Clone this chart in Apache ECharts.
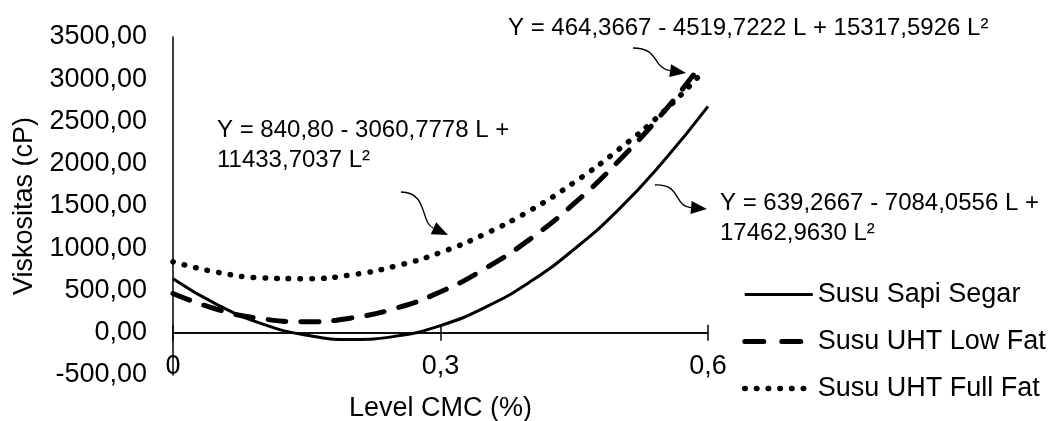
<!DOCTYPE html>
<html lang="en">
<head>
    <meta charset="UTF-8">
    <title>Viskositas</title>
    <script src="https://cdn.jsdelivr.net/npm/echarts@6/dist/echarts.min.js"></script>
    <style type="text/css">
        html, body {
            margin: 0;
            height: 100%;
            background: #fff;
        }
    </style>
</head>
<body>

<div id="main" style="width: 1056px;height:421px;"></div>

<script>
    // level CMC (%) sampled along each trend curve
    const xSapi = [0, 0.05, 0.1, 0.15, 0.2, 0.25, 0.3, 0.35, 0.4, 0.45, 0.5, 0.55, 0.6];
    const xLowFat = [0, 0.05, 0.1, 0.15, 0.2, 0.25, 0.3, 0.35, 0.4, 0.45, 0.5, 0.55, 0.585];
    const xFullFat = [0, 0.05, 0.1, 0.15, 0.2, 0.25, 0.3, 0.35, 0.4, 0.45, 0.5, 0.55, 0.59];

    // viskositas (cP)
    const sapiSegar = [640, 330, 105, -30, -80, -40, 85, 300, 600, 990, 1460, 2030, 2680];
    const uhtLowFat = [465, 275, 165, 130, 175, 290, 485, 760, 1105, 1530, 2035, 2610, 3070];
    const uhtFullFat = [840, 715, 650, 640, 685, 790, 950, 1170, 1445, 1780, 2170, 2615, 3040];

    const seriesNames = ['Susu Sapi Segar', 'Susu UHT Low Fat', 'Susu UHT Full Fat'];
    const xTicks = [0, 0.3, 0.6];

    const equations = [
        'Y = 840,80 - 3060,7778 L +\n11433,7037 L²',
        'Y = 464,3667 - 4519,7222 L + 15317,5926 L²',
        'Y = 639,2667 - 7084,0556 L +\n17462,9630 L²'
    ];

    const FONT = 'Liberation Sans, Arial, sans-serif';

    const lineStyles = [
        {color: '#000', width: 3},
        {color: '#000', width: 5, type: [18, 15], cap: 'round'},
        {color: '#000', width: 5.5, type: [0.5, 11.2], cap: 'round'}
    ];
    // the legend sample of the dashed line shows exactly two dashes
    const legendStyles = [lineStyles[0], Object.assign({}, lineStyles[1], {type: [19, 18]}), lineStyles[2]];

    function pairs(xs, ys) {
        return xs.map(function (x, i) { return [x, ys[i]]; });
    }

    // curved pointer with a filled head, tip at (tx, ty)
    function arrow(x0, y0, c1x, c1y, c2x, c2y, tx, ty) {
        const dx = tx - c2x, dy = ty - c2y;
        const len = Math.sqrt(dx * dx + dy * dy);
        const ux = dx / len, uy = dy / len;
        const bx = tx - ux * 16, by = ty - uy * 16;
        const px = -uy * 6.5, py = ux * 6.5;
        return [{
            type: 'bezierCurve',
            shape: {x1: x0, y1: y0, cpx1: c1x, cpy1: c1y, cpx2: c2x, cpy2: c2y, x2: bx, y2: by},
            style: {stroke: '#000', lineWidth: 1.3, fill: null}
        }, {
            type: 'polygon',
            shape: {points: [[tx, ty], [bx + px, by + py], [bx - px, by - py]]},
            style: {fill: '#000'}
        }];
    }

    function eqText(str, x, y) {
        return {
            type: 'text',
            x: x,
            y: y,
            style: {
                text: str,
                font: '24px ' + FONT,
                fill: '#000',
                lineHeight: 30,
                verticalAlign: 'top'
            }
        };
    }

    const tickAxis = {
        type: 'value',
        min: 0,
        max: 0.6,
        interval: 0.3,
        splitLine: {show: false}
    };

    const myChart = echarts.init(document.getElementById('main'), null, {renderer: 'canvas'});
    const option = {
        backgroundColor: '#fff',
        animation: false,
        textStyle: {fontFamily: FONT, color: '#000'},
        grid: {left: 173, right: 348, top: 37, bottom: 46, containLabel: false, outerBoundsMode: 'none'},
        legend: {
            orient: 'vertical',
            left: 737,
            top: 276,
            itemWidth: 68,
            itemHeight: 27,
            itemGap: 20,
            itemStyle: {opacity: 0},
            textStyle: {fontSize: 27, color: '#000', fontFamily: FONT},
            data: seriesNames.map(function (n, i) {
                return {name: n, lineStyle: legendStyles[i]};
            })
        },
        xAxis: [Object.assign({}, tickAxis, {
            name: 'Level CMC (%)',
            nameLocation: 'middle',
            nameGap: 20,
            nameTextStyle: {fontSize: 27, color: '#000'},
            axisLine: {onZero: true, onZeroAxisIndex: 0, lineStyle: {color: '#000', width: 1.5}},
            axisTick: {show: true, length: 8, lineStyle: {color: '#000', width: 1.5}},
            axisLabel: {
                fontSize: 27,
                color: '#000',
                margin: -22,
                formatter: function (v) {
                    return xTicks.indexOf(v) >= 0 ? String(v).replace('.', ',') : '';
                }
            }
        }), Object.assign({}, tickAxis, {
            // same axis again, only to get the upper half of the crossing ticks
            position: 'top',
            axisLine: {onZero: true, onZeroAxisIndex: 1, lineStyle: {color: '#000', width: 1.5}},
            axisTick: {show: true, length: 8, lineStyle: {color: '#000', width: 1.5}},
            axisLabel: {show: false}
        })],
        yAxis: [{
            type: 'value',
            min: -500,
            max: 3500,
            interval: 500,
            name: 'Viskositas (cP)',
            nameLocation: 'middle',
            nameGap: 121,
            nameTextStyle: {fontSize: 27, color: '#000'},
            axisLine: {show: true, onZero: false, lineStyle: {color: '#000', width: 1.5}},
            axisTick: {show: false},
            axisLabel: {
                fontSize: 27,
                color: '#000',
                margin: 26,
                formatter: function (v) {
                    return v.toFixed(2).replace('.', ',');
                }
            },
            splitLine: {show: false}
        }, {
            type: 'value',
            min: -500,
            max: 3500,
            interval: 500,
            show: false
        }],
        series: seriesNames.map(function (n, i) {
            return {
                name: n,
                type: 'line',
                smooth: true,
                symbol: 'none',
                itemStyle: {color: '#000'},
                lineStyle: lineStyles[i],
                data: [pairs(xSapi, sapiSegar), pairs(xLowFat, uhtLowFat), pairs(xFullFat, uhtFullFat)][i]
            };
        }),
        graphic: [
            eqText(equations[0], 217, 115),
            eqText(equations[1], 508, 13),
            eqText(equations[2], 720, 188)
        ]
            .concat(arrow(401, 192, 428, 192, 420, 222, 448, 235))
            .concat(arrow(633, 48, 660, 48, 652, 68, 686, 73))
            .concat(arrow(655, 185, 682, 184, 673, 206, 707, 209))
    };

    myChart.setOption(option);

    window.addEventListener("resize", function () {
        myChart.resize();
    });
</script>
</body>
</html>
